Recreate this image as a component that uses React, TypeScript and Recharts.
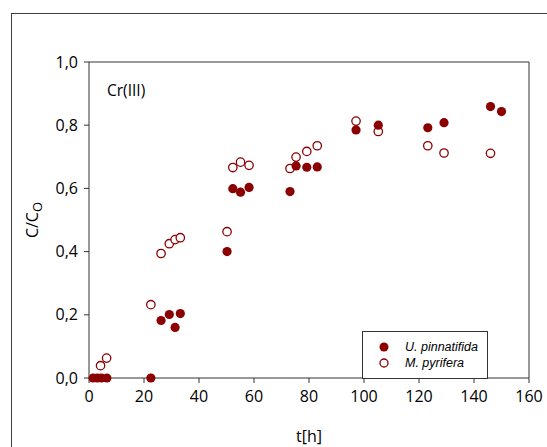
import React from "react";
import {
  ScatterChart,
  Scatter,
  XAxis,
  YAxis,
  ReferenceLine,
} from "recharts";

const RED = "#8b0000";
const AXIS = "#333333";
const FONT = "'Open Sans', 'Noto Sans', sans-serif";

// U. pinnatifida (filled markers)
const uTime = [1.5, 3, 4.5, 6.5, 22.5, 26.2, 29.2, 31.3, 33.2, 50.2, 52.3, 55.1, 58.2, 73.1, 75.3, 79.2, 83, 97.1, 105.2, 123.2, 129.1, 146, 150];
const uRatio = [0, 0, 0, 0, 0, 0.182, 0.201, 0.16, 0.204, 0.4, 0.599, 0.588, 0.603, 0.59, 0.671, 0.667, 0.668, 0.785, 0.8, 0.792, 0.808, 0.859, 0.843];

// M. pyrifera (open markers)
const mTime = [4.2, 6.4, 22.5, 26.2, 29.2, 31.3, 33.2, 50.2, 52.3, 55.1, 58.2, 73.1, 75.3, 79.2, 83, 97.1, 105.2, 123.2, 129.1, 146];
const mRatio = [0.039, 0.063, 0.232, 0.394, 0.425, 0.438, 0.444, 0.463, 0.666, 0.683, 0.673, 0.663, 0.699, 0.717, 0.735, 0.813, 0.78, 0.735, 0.712, 0.711];

const xTicks = [0, 20, 40, 60, 80, 100, 120, 140, 160];
const yTicks = [0, 0.2, 0.4, 0.6, 0.8, 1.0];

const uData = uTime.map((t, i) => ({ t, c: uRatio[i] }));
const mData = mTime.map((t, i) => ({ t, c: mRatio[i] }));

const FilledDot = (p: any) => <circle cx={p.cx} cy={p.cy} r={4.6} fill={RED} />;
const OpenDot = (p: any) => (
  <circle cx={p.cx} cy={p.cy} r={4.2} fill="#fff" stroke={RED} strokeWidth={1.3} />
);

const tickStyle = { fontSize: 16, fill: "#000", fontFamily: FONT };

export default function App() {
  return (
    <div
      style={{
        position: "absolute",
        left: 0,
        top: 0,
        width: 547,
        height: 447,
        background: "#fff",
        overflow: "hidden",
      }}
    >
      <div
        style={{
          position: "absolute",
          left: 11,
          top: 13,
          width: 560,
          height: 460,
          borderLeft: "1.5px solid #404040",
          borderTop: "1.5px solid #404040",
        }}
      />
      <ScatterChart
        width={547}
        height={447}
        margin={{ top: 62, right: 18, bottom: 9, left: 29 }}
        style={{ position: "absolute", left: 0, top: 0 }}
      >
        <XAxis
          type="number"
          dataKey="t"
          domain={[0, 160]}
          ticks={xTicks}
          height={60}
          stroke={AXIS}
          tickSize={5}
          tickMargin={8}
          tick={tickStyle}
          label={(props: any) => {
            const vb = props.viewBox;
            return (
              <text
                x={vb.x + vb.width / 2}
                y={vb.y + 64}
                textAnchor="middle"
                fontSize={16}
                fontFamily={FONT}
                fill="#000"
              >
                t[h]
              </text>
            );
          }}
        />
        <YAxis
          type="number"
          dataKey="c"
          domain={[0, 1]}
          ticks={yTicks}
          width={60}
          stroke={AXIS}
          tickSize={5}
          tickMargin={6}
          tick={tickStyle}
          tickFormatter={(v: number) => v.toFixed(1).replace(".", ",")}
          label={(props: any) => {
            const vb = props.viewBox;
            const x = vb.x + 9;
            const y = vb.y + vb.height / 2;
            return (
              <text
                x={x}
                y={y}
                transform={`rotate(-90, ${x}, ${y})`}
                textAnchor="middle"
                fontSize={16}
                fontFamily={FONT}
                fill="#000"
              >
                C/C
                <tspan fontSize={13} dy={4}>O</tspan>
              </text>
            );
          }}
        />
        <ReferenceLine y={1} stroke={AXIS} strokeWidth={1} />
        <ReferenceLine x={160} stroke={AXIS} strokeWidth={1} />
        <Scatter name="M. pyrifera" data={mData} shape={OpenDot} isAnimationActive={false} />
        <Scatter name="U. pinnatifida" data={uData} shape={FilledDot} isAnimationActive={false} />
      </ScatterChart>
      <div
        style={{
          position: "absolute",
          left: 107,
          top: 79,
          fontFamily: FONT,
          fontSize: 15.5,
          color: "#000",
        }}
      >
        Cr(III)
      </div>
      <div
        style={{
          position: "absolute",
          left: 362,
          top: 331,
          width: 124,
          height: 46,
          border: "1px solid #333",
          background: "#fff",
          fontFamily: "'Liberation Sans', Arial, sans-serif",
          fontStyle: "italic",
          fontSize: 12.5,
          color: "#000",
        }}
      >
        {[
          { name: "U. pinnatifida", filled: true },
          { name: "M. pyrifera", filled: false },
        ].map((s, i) => (
          <div
            key={s.name}
            style={{
              position: "absolute",
              left: 15,
              top: 8 + i * 16,
              display: "flex",
              alignItems: "center",
              height: 14,
              whiteSpace: "nowrap",
            }}
          >
            <svg width={12} height={12} style={{ marginRight: 15 }}>
              {s.filled ? (
                <circle cx={6} cy={6} r={4.5} fill={RED} />
              ) : (
                <circle cx={6} cy={6} r={4} fill="#fff" stroke={RED} strokeWidth={1.3} />
              )}
            </svg>
            {s.name}
          </div>
        ))}
      </div>
    </div>
  );
}
